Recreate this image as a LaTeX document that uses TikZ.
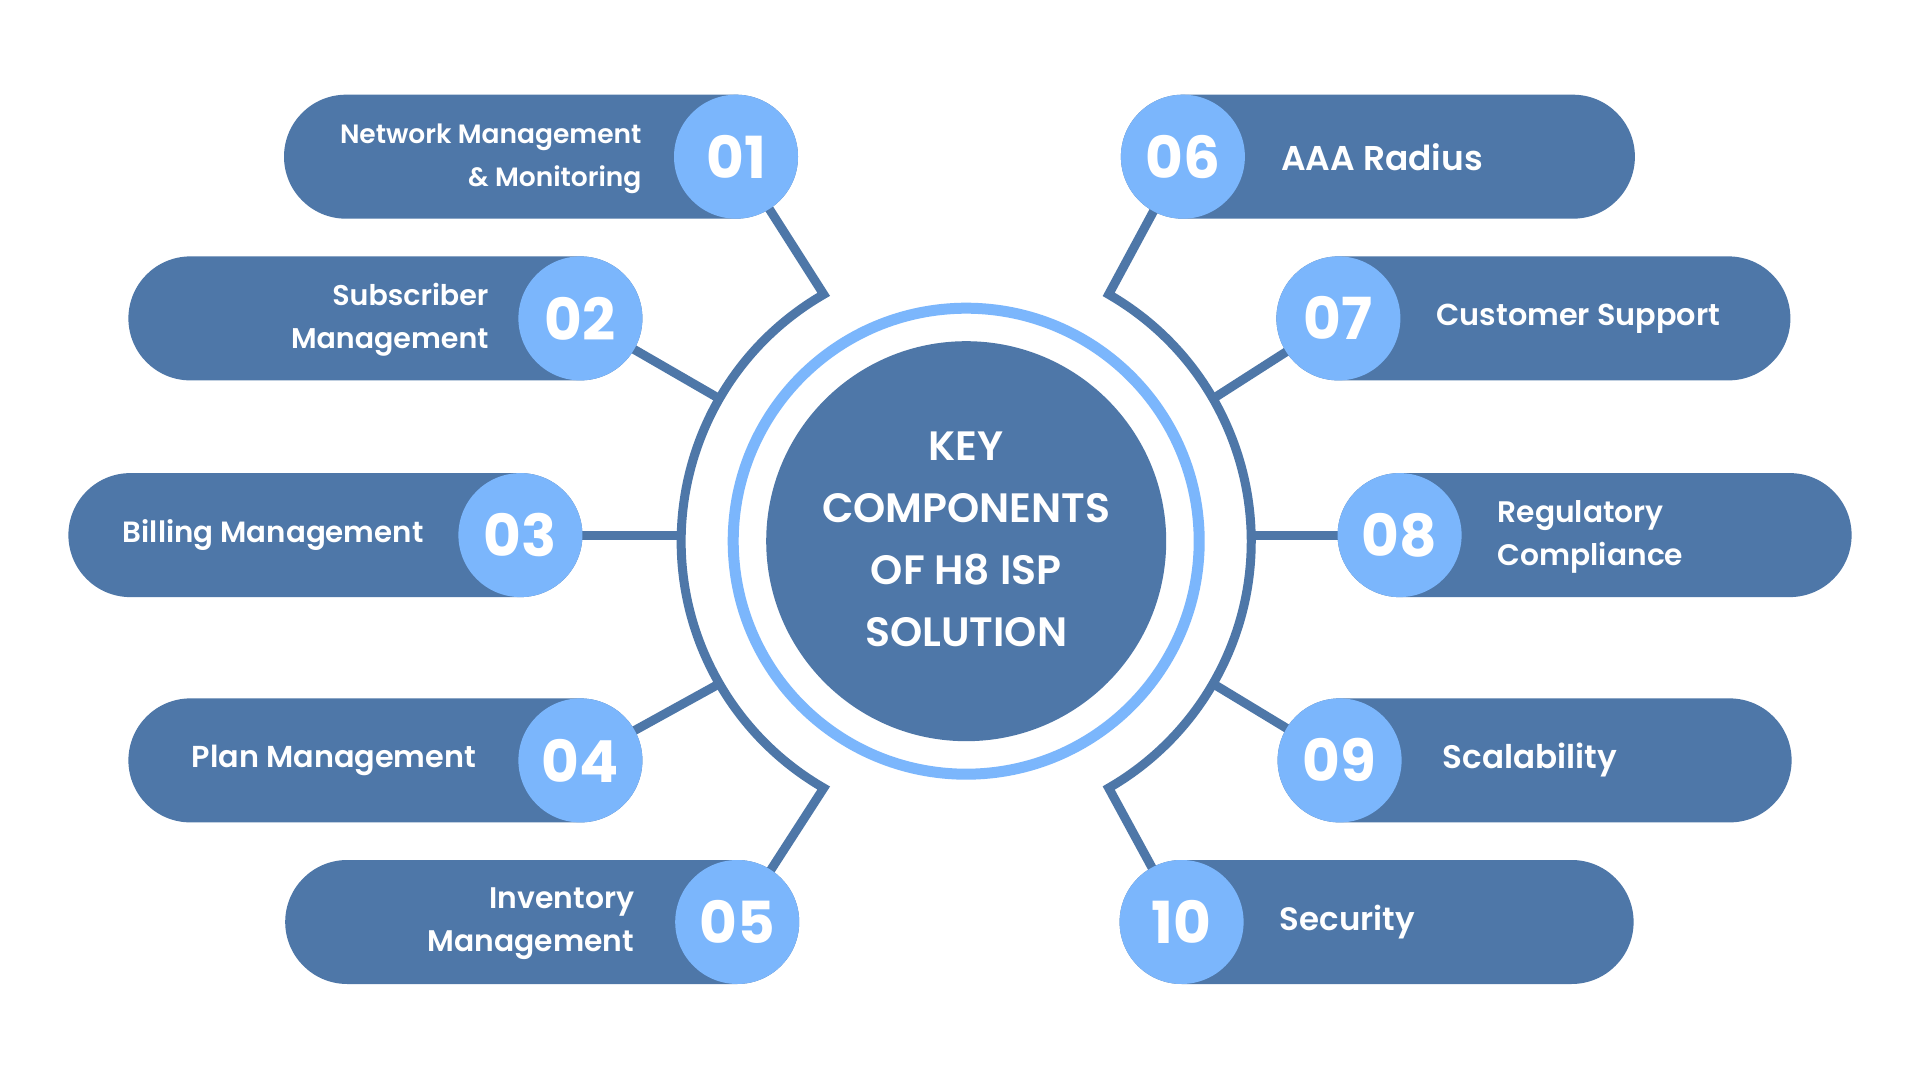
\documentclass[tikz,border=0pt]{standalone}
\usepackage{fontspec}
\setmainfont{Poppins}[UprightFont={* Medium},BoldFont={* Bold}]
\newfontfamily\titlefont{Poppins}[UprightFont={* SemiBold}]
\newfontfamily\labelfont{Poppins}[UprightFont={* SemiBold}]
\usetikzlibrary{calc,shapes.misc}
\definecolor{dkblue}{HTML}{4E77A8}
\definecolor{ltblue}{HTML}{7BB6FC}
\pgfdeclarelayer{back}\pgfdeclarelayer{links}\pgfsetlayers{back,links,main}
\begin{document}
\begin{tikzpicture}[x=1pt,y=1pt,
  pill/.style={rounded rectangle, fill=dkblue, minimum width=514pt, minimum height=124pt, inner sep=0pt},
  num/.style={circle, fill=ltblue, minimum size=124pt, inner sep=0pt, text=white, font=\bfseries\fontsize{58}{58}\selectfont},
  lbl/.style={text=white, font=\labelfont\fontsize{#1}{43}\selectfont, inner sep=0pt},
  lbll/.style={lbl=#1, anchor=east, align=right},
  lblr/.style={lbl=#1, anchor=west, align=left},
  conn/.style={draw=dkblue, line width=9pt, line join=miter}]
\useasboundingbox (0,0) rectangle (1920,1080);
\begin{pgfonlayer}{back}
\fill[white] (0,0) rectangle (1920,1080);
\end{pgfonlayer}
% centre
\coordinate (C) at (966.2,538.8);
\draw[ltblue, line width=11pt] (C) circle[radius=233];
\node[circle, fill=dkblue, minimum size=400pt, inner sep=0pt] (hub) at (C) {};
\node[text=white, align=center, font=\titlefont\fontsize{41}{62}\selectfont] (title) at (966.2,540.6) {KEY\\COMPONENTS\\OF H8 ISP\\SOLUTION};
% pills (left)
\node[pill] (p01) at (736-195,923.3) {};
\node[pill] (p02) at (580.4-195,761.6) {};
\node[pill] (p03) at (520.4-195,544.9) {};
\node[pill] (p04) at (580.4-195,319.6) {};
\node[pill] (p05) at (737.2-195,158.0) {};
% pills (right)
\node[pill] (p06) at (1182.9+195,923.3) {};
\node[pill] (p07) at (1338.4+195,761.6) {};
\node[pill] (p08) at (1399.6+195,544.9) {};
\node[pill] (p09) at (1339.6+195,319.6) {};
\node[pill] (p10) at (1181.6+195,158.0) {};
% number circles
\node[num] (n01) at (736,923.3) {01};
\node[num] (n02) at (580.4,761.6) {02};
\node[num] (n03) at (520.4,544.9) {03};
\node[num] (n04) at (580.4,319.6) {04};
\node[num] (n05) at (737.2,158.0) {05};
\node[num] (n06) at (1182.9,923.3) {06};
\node[num] (n07) at (1338.4,761.6) {07};
\node[num] (n08) at (1399.6,544.9) {08};
\node[num] (n09) at (1339.6,319.6) {09};
\node[num] (n10) at (1181.6,158.0) {10};
% labels
\node[lbll=26.5] (t01) at (641.6,921) {Network Management\\\& Monitoring};
\node[lbll=28.5] (t02) at (488.6,760) {Subscriber\\Management};
\node[lbll=29.3] (t03) at (423.7,544.9) {Billing Management};
\node[lbll=30.3] (t04) at (476.3,319.6) {Plan Management};
\node[lbll=29.8] (t05) at (634.3,156.5) {Inventory\\Management};
\node[lblr=34.4] (t06) at (1280.8,923.3) {AAA Radius};
\node[lblr=30.3] (t07) at (1436.3,761.6) {Customer Support};
\node[lblr=29.7] (t08) at (1497.5,543.5) {Regulatory\\Compliance};
\node[lblr=32.6] (t09) at (1442.5,319.6) {Scalability};
\node[lblr=32.4] (t10) at (1279.6,158.0) {Security};
% connectors
\begin{pgfonlayer}{links}
\coordinate (aL) at ($(C)+(180:285)$);
\coordinate (aR) at ($(C)+(0:285)$);
\draw[conn] (n01.center) -- ($(C)+(120:285)$) arc[start angle=120, end angle=240, radius=285] -- (n05.center);
\draw[conn] (n06.center) -- ($(C)+(60:285)$) arc[start angle=60, end angle=-60, radius=285] -- (n10.center);
\draw[conn] (n02.center) -- ($(C)+(150:285)$);
\draw[conn] (n04.center) -- ($(C)+(210:285)$);
\draw[conn] (n03.center) -- (n03.center -| aL);
\draw[conn] (n07.center) -- ($(C)+(30:285)$);
\draw[conn] (n09.center) -- ($(C)+(-30:285)$);
\draw[conn] (n08.center) -- (n08.center -| aR);
\end{pgfonlayer}
\end{tikzpicture}
\end{document}
